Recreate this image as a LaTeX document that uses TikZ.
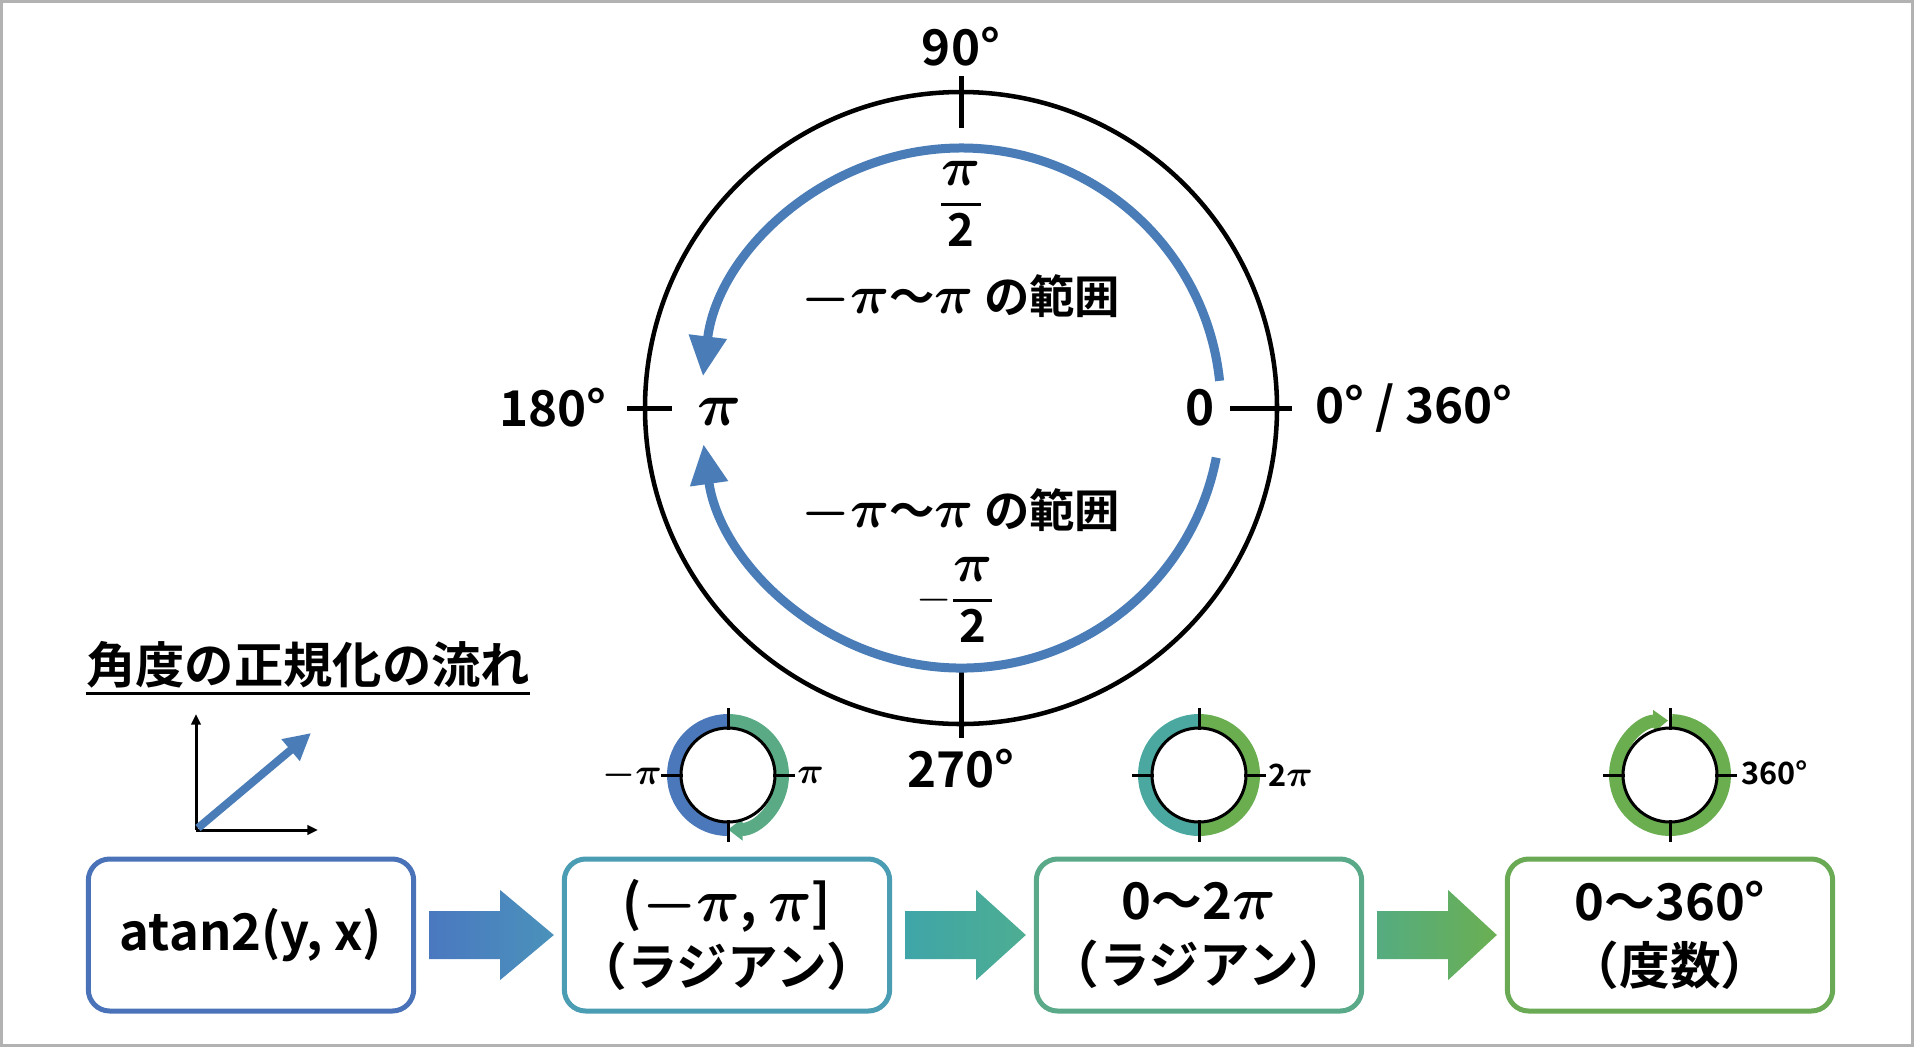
\RequirePackage{fix-cm}
\documentclass[tikz,border=0pt]{standalone}
\usepackage{amsmath}
\usepackage{fontspec}
\setmainfont{Noto Sans CJK JP}[BoldFont={Noto Sans CJK JP Bold}]
\usetikzlibrary{arrows.meta,calc}
\definecolor{arcblue}{HTML}{4A7DB8}
\definecolor{bxA}{HTML}{4A72B8}
\definecolor{bxB}{HTML}{4A9DB3}
\definecolor{bxC}{HTML}{5AAA8A}
\definecolor{bxD}{HTML}{6AAA55}
\definecolor{ringblue}{HTML}{4A78BA}
\definecolor{ringgreen}{HTML}{5AAA85}
\definecolor{ringteal}{HTML}{4AA8A0}
\definecolor{ringlime}{HTML}{6AAE50}
\definecolor{arAl}{HTML}{4A78C0}
\definecolor{arAr}{HTML}{4A92BB}
\definecolor{arBl}{HTML}{3FA5A8}
\definecolor{arBr}{HTML}{4DAE92}
\definecolor{arCl}{HTML}{55AC80}
\definecolor{arCr}{HTML}{6AAF52}
\newcommand\fsz[1]{\fontsize{#1}{#1}\selectfont}
\newcommand\bpi{\boldsymbol{\pi}}
\newcommand\Bp{\scalebox{1.2}{$\boldsymbol{\pi}$}}
\newcommand\Bmp{\scalebox{1.2}{$\boldsymbol{-\pi}$}}
\newcommand\pifrac{\genfrac{}{}{1.8pt}{0}{\mbox{\Bp}}{\mathbf{2}}}
\newcommand\blockarr[4]{%
  \shade[left color=#3, right color=#4]
    ($(#1.east)+(13,-24)$) -- ($(#1.east)+(84,-24)$) -- ($(#1.east)+(84,-45)$)
    -- ($(#2.west)+(-8,0)$)
    -- ($(#1.east)+(84,45)$) -- ($(#1.east)+(84,24)$) -- ($(#1.east)+(13,24)$) -- cycle;}
\begin{document}
\begin{tikzpicture}[x=0.75pt,y=-0.75pt,
  lbl/.style={font=\bfseries\fsz{37}, inner sep=0pt},
  mid/.style={font=\bfseries\fsz{34}, inner sep=0pt},
  fracl/.style={font=\bfseries\fsz{34}, inner sep=0pt},
  sml/.style={font=\bfseries\fsz{23}, inner sep=0pt},
  box/.style={draw, line width=3.75pt, rounded corners=16pt, fill=white,
    minimum width=244pt, minimum height=114pt, align=center,
    font=\bfseries\fontsize{38}{48}\selectfont, inner sep=0pt},
  bigtick/.style={line width=3.75pt},
  bluearc/.style={arcblue, line width=6.75pt, -{Triangle[length=30pt,width=27pt]}},
  ring/.style={line width=9.75pt},
  ringline/.style={line width=2.25pt},
]
\useasboundingbox (0,0) rectangle (1920,1047);
\fill[white] (0,0) rectangle (1920,1047);
\draw[black!30, line width=2.25pt] (1,1) rectangle (1912,1045);

% ---- big circle ----
\coordinate (O) at (961,408);
\draw[line width=3.4pt] (O) circle[radius=316];
\draw[bigtick] (961,76) -- (961,128);
\draw[bigtick] (961,668) -- (961,738);
\draw[bigtick] (627,408) -- (672,408);
\draw[bigtick] (1230,408) -- (1292,408);
\draw[bluearc] (O) ++(-6:260) arc[start angle=-6, end angle=-173, radius=260];
\draw[bluearc] (O) ++(11:260) arc[start angle=11, end angle=172, radius=260];

\node[lbl] (t90) at (961,47) {90°};
\node[lbl] (t270) at (961,769) {270°};
\node[lbl] (t180) at (553,408) {180°};
\node[lbl] (t0) at (1414,408) {0° / 360°};
\node[lbl, font=\bfseries\fsz{46}] (tpi) at (720,412) {$\bpi$};
\node[lbl] (tzero) at (1200,408) {0};
\node[fracl] (pih) at (961,204) {$\pifrac$};
\node[mid] (rng1) at (961,298) {\Bmp〜\Bp{} の範囲};
\node[mid] (rng2) at (961,512) {\Bmp〜\Bp{} の範囲};
\node[fracl] (mpih) at (955,600) {$-\pifrac$};

% ---- title and axis icon ----
\node[font=\bfseries\fsz{37}, inner sep=0pt] (title) at (308,665) {角度の正規化の流れ};
\draw[line width=2.25pt] ($(title.south west)+(0,5)$) -- ($(title.south east)+(0,5)$);
\coordinate (ax0) at (196,830);
\coordinate (axy) at (196,714);
\coordinate (axx) at (318,830);
\coordinate (vec) at (311,733);
\draw[line width=2.25pt, -{Triangle[length=8pt,width=7pt]}] (ax0) -- (axy);
\draw[line width=2.25pt, -{Triangle[length=8pt,width=7pt]}] (ax0) -- (axx);
\draw[arcblue, line width=6pt, -{Triangle[length=20pt,width=20pt]}] (198,828) -- (vec);

% ---- boxes ----
\node[box, draw=bxA] (b1) at (251,935) {atan2(y, x)};
\node[box, draw=bxB] (b2) at (727,935) {(\Bmp, \Bp]\\（ラジアン）};
\node[box, draw=bxC] (b3) at (1199,935) {0〜2\Bp\\（ラジアン）};
\node[box, draw=bxD] (b4) at (1670,935) {0〜360°\\（度数）};

\blockarr{b1}{b2}{arAl}{arAr}
\blockarr{b2}{b3}{arBl}{arBr}
\blockarr{b3}{b4}{arCl}{arCr}

% ---- small circles ----
\coordinate (c1) at (728,775);
\draw[ring, ringblue] (c1) ++(-90:54.5) arc[start angle=-90, end angle=-270, radius=54.5];
\draw[ring, ringgreen, -{Triangle[length=11pt,width=16pt]}] (c1) ++(-90:54.5) arc[start angle=-90, end angle=90, radius=54.5];
\draw[ringline] (c1) circle[radius=47];
\foreach \a in {0,90,180,270} \draw[ringline] (c1) ++(\a:45) -- ++(\a:22);
\node[sml, anchor=east] (c1l) at (662,775) {\Bmp};
\node[sml, anchor=west] (c1r) at (797,775) {\Bp};

\coordinate (c2) at (1199,775);
\draw[ring, ringteal] (c2) ++(-90:54.5) arc[start angle=-90, end angle=-270, radius=54.5];
\draw[ring, ringlime] (c2) ++(-90:54.5) arc[start angle=-90, end angle=90, radius=54.5];
\draw[ringline] (c2) circle[radius=47];
\foreach \a in {0,90,180,270} \draw[ringline] (c2) ++(\a:45) -- ++(\a:22);
\node[sml, anchor=west] (c2r) at (1268,775) {$\mathbf{2}$\Bp};

\coordinate (c3) at (1670,775);
\draw[ring, ringlime, -{Triangle[length=11pt,width=16pt]}] (c3) ++(-88:54.5) arc[start angle=-88, end angle=268, radius=54.5];
\draw[ringline] (c3) circle[radius=47];
\foreach \a in {0,90,180,270} \draw[ringline] (c3) ++(\a:45) -- ++(\a:22);
\node[sml, anchor=west] (c3r) at (1741,773) {360°};
\end{tikzpicture}
\end{document}
